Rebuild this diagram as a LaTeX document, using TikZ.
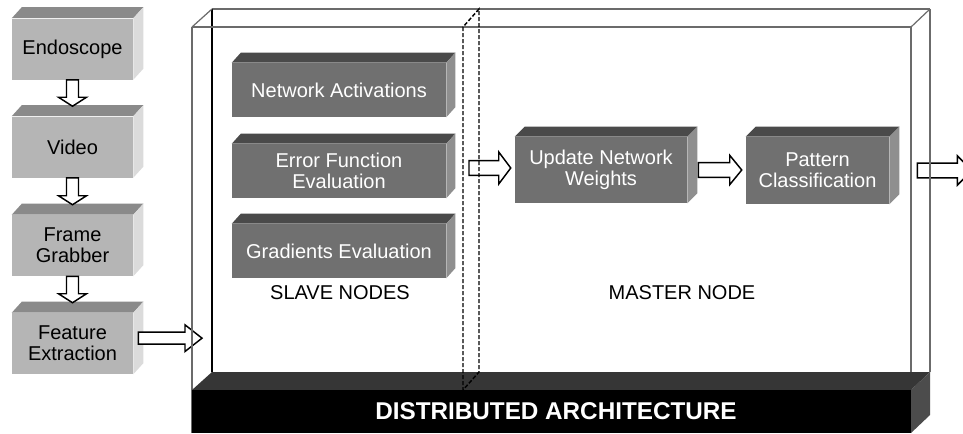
\documentclass[tikz,border=0pt]{standalone}
\usepackage{fontspec}
\setmainfont{Liberation Sans}
\usetikzlibrary{calc}

\definecolor{lfront}{gray}{0.71}
\definecolor{ltop}{gray}{0.54}
\definecolor{lside}{gray}{0.86}
\definecolor{dfront}{gray}{0.44}
\definecolor{dtop}{gray}{0.29}
\definecolor{dside}{gray}{0.56}
\definecolor{slabtop}{gray}{0.21}
\definecolor{slabside}{gray}{0.30}
\definecolor{rim}{gray}{0.42}

\newcommand\boxfont{\fontsize{15}{15.5}\selectfont}

% top and right faces of a box whose front face is node #1
\newcommand\boxfaces[5]{%
  \fill[#4] (#1.north west) -- ++(#2,#3) -- ($(#1.north east)+(#2,#3)$) -- (#1.north east) -- cycle;
  \fill[#5] (#1.north east) -- ++(#2,#3) -- ($(#1.south east)+(#2,#3)$) -- (#1.south east) -- cycle;}

\tikzset{
  lbox/.style={fill=lfront, minimum width=90.75pt, minimum height=45.75pt,
    inner sep=0pt, align=center, font=\boxfont},
  dbox/.style={fill=dfront, text=white, inner sep=0pt, align=center, font=\boxfont},
  caption/.style={font=\boxfont, inner sep=0pt},
  rimline/.style={draw=rim, line width=0.9pt},
  divider/.style={draw=black, line width=1.1pt, dash pattern=on 3pt off 1.5pt},
  % hollow block arrow pointing down: shaft half width / head half width / head length
  darrow/.style args={#1/#2/#3}{draw=black, fill=white, line width=1.1pt, line join=miter,
    to path={let \p1=(\tikztostart), \p2=(\tikztotarget) in
      (\x1-#1,\y1) -- (\x1-#1,\y2+#3) -- (\x1-#2,\y2+#3) -- (\x1,\y2)
      -- (\x1+#2,\y2+#3) -- (\x1+#1,\y2+#3) -- (\x1+#1,\y1) -- cycle}},
  % hollow block arrow pointing right
  rarrow/.style args={#1/#2/#3}{draw=black, fill=white, line width=1.1pt, line join=miter,
    to path={let \p1=(\tikztostart), \p2=(\tikztotarget) in
      (\x1,\y1+#1) -- (\x2-#3,\y1+#1) -- (\x2-#3,\y1+#2) -- (\x2,\y1)
      -- (\x2-#3,\y1-#2) -- (\x2-#3,\y1-#1) -- (\x1,\y1-#1) -- cycle}},
}

\begin{document}
\begin{tikzpicture}[x=0.75pt, y=-0.75pt]
\useasboundingbox (0,0) rectangle (963,433);
\clip (0,0) rectangle (963,433);
\fill[white] (0,0) rectangle (963,433);

% ---- frame of the distributed architecture box
\coordinate (ftl) at (192,27);  \coordinate (ftr) at (911,27);
\coordinate (btl) at (212,9);   \coordinate (btr) at (930,9);
\coordinate (fbl) at (192,390); \coordinate (fbr) at (911,390);
\coordinate (bbl) at (212,372); \coordinate (bbr) at (930,372);
\coordinate (fbase) at (192,433); \coordinate (fbaser) at (911,433);
\coordinate (bbaser) at (930,415);

\draw[rimline, line width=1.3pt] (btl) -- (btr);
\draw[black, line width=1.5pt] (btl) -- (bbl);

% ---- acquisition chain
\node[lbox] (endo)  at (72.5,49)    {Endoscope};
\node[lbox] (video) at (72.5,147)   {Video};
\node[lbox] (frame) at (72.5,245.5) {Frame\\Grabber};
\node[lbox] (feat)  at (72.5,343.5) {Feature\\Extraction};
\foreach \n in {endo,video,frame,feat} {\boxfaces{\n}{10}{-11}{ltop}{lside}}

\draw[darrow=4.5pt/10.5pt/6.75pt] (endo.south)  to ([yshift=7.5pt]video.north);
\draw[darrow=4.5pt/10.5pt/6.75pt] (video.south) to ([yshift=7.5pt]frame.north);
\draw[darrow=4.5pt/10.5pt/6.75pt] (frame.south) to ([yshift=7.5pt]feat.north);

% ---- slave nodes
\node[dbox, minimum width=160.5pt, minimum height=40.5pt] (act)  at (339,90)  {Network Activations};
\node[dbox, minimum width=160.5pt, minimum height=40.5pt] (err)  at (339,171) {Error Function\\Evaluation};
\node[dbox, minimum width=160.5pt, minimum height=40.5pt] (grad) at (339,251) {Gradients Evaluation};
\foreach \n in {act,err,grad} {\boxfaces{\n}{9}{-10}{dtop}{dside}}

% ---- master node
\node[dbox, minimum width=129pt, minimum height=49.5pt] (upd) at (601,170) {Update Network\\Weights};
\node[dbox, minimum width=107.25pt, minimum height=50.25pt] (pat) at (817.5,170.5) {Pattern\\Classification};
\foreach \n in {upd,pat} {\boxfaces{\n}{10}{-10}{dtop}{dside}}

\node[caption] (slave)  at (340,293) {SLAVE NODES};
\node[caption] (master) at (682,293) {MASTER NODE};

% ---- data flow
\coordinate (inlet)    at (202,338);
\coordinate (slaveout) at (469,168);
\coordinate (outlet)   at (972,170);
\draw[rarrow=4.5pt/10pt/12.75pt] ([xshift=3.75pt,yshift=4pt]feat.east) to (inlet);
\draw[rarrow=5.6pt/12pt/9pt] (slaveout) to ([xshift=-3pt,yshift=1.5pt]upd.west);
\draw[rarrow=5.6pt/11pt/9pt] ([xshift=8.25pt]upd.east) to ([xshift=-3pt]pat.west);
\draw[rarrow=5.6pt/11pt/11pt] ([xshift=21pt]pat.east) to (outlet);

% ---- remaining edges of the frame
\draw[rimline] (btr) -- (bbr);
\draw[rimline] (ftl) -- (btl);
\draw[rimline] (ftr) -- (btr);
\draw[rimline] (ftl) -- (fbase);
\draw[rimline] (ftr) -- (fbr);
\draw[rimline, line width=0.8pt] (ftl) -- (ftr);

% ---- base slab
\fill[slabtop]  (fbl) -- (bbl) -- (bbr) -- (fbr) -- cycle;
\fill[slabside] (fbr) -- (bbr) -- (bbaser) -- (fbaser) -- cycle;
\fill[black]    (fbl) rectangle (fbaser);
\node[font=\bfseries\fontsize{18.2}{20}\selectfont, text=white, inner sep=0pt] (arch) at (556,411)
  {DISTRIBUTED ARCHITECTURE};

% ---- dashed partition between slave and master nodes
\coordinate (dtf) at (463,27);  \coordinate (dbf) at (463,390);
\coordinate (dtb) at (479,9);   \coordinate (dbb) at (479,372);
\draw[divider] (dtf) -- (dbf) -- (dbb) -- (dtb) -- cycle;
\end{tikzpicture}
\end{document}
